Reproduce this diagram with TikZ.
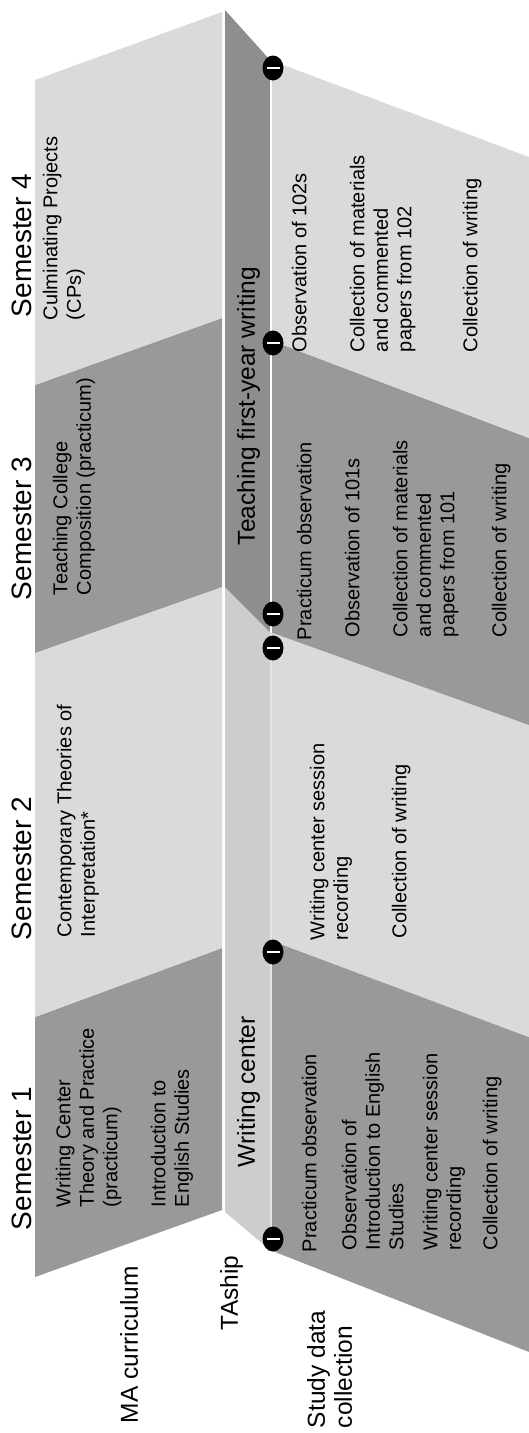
\documentclass[tikz,border=0pt]{standalone}
\usepackage{fontspec}
\setmainfont{Liberation Sans}
\usetikzlibrary{shapes.geometric}
\definecolor{lightg}{HTML}{DADADA}
\definecolor{darkg}{HTML}{999999}
\definecolor{talight}{HTML}{CDCDCD}
\definecolor{tadark}{HTML}{8E8E8E}
\definecolor{sepline}{HTML}{E4E4E4}
\begin{document}
\begin{tikzpicture}[x=1pt,y=-1pt,
  light/.style={fill=lightg},
  dark/.style={fill=darkg},
  txt/.style={rotate=90,anchor=north west,inner sep=0pt,outer sep=0pt,align=left,
    font=\fontsize{20}{23.5}\selectfont},
  hdr/.style={txt,font=\fontsize{28}{32}\selectfont},
  lbl/.style={txt,font=\fontsize{24.5}{27}\selectfont},
  marker/.style={ellipse,fill=black,inner sep=0pt,minimum width=21pt,minimum height=25pt,
    path picture={\draw[white,line width=2.4pt]
      ([xshift=-6.5pt]path picture bounding box.center) --
      ([xshift=6.5pt]path picture bounding box.center);}}]
\useasboundingbox (0,0) rectangle (529,1433);
% MA curriculum band
\fill[dark]  (35,1277) -- (222,1210) -- (222,948) -- (35,1017) -- cycle;
\fill[light] (35,1017) -- (222,948) -- (222,587) -- (35,653) -- cycle;
\fill[dark]  (35,653) -- (222,587) -- (222,318) -- (35,385) -- cycle;
\fill[light] (35,385) -- (222,318) -- (222,12) -- (35,80) -- cycle;
% TAship band
\fill[talight] (225,1212) -- (270,1250) -- (270,632) -- (225,587) -- cycle;
\fill[tadark]  (225,587) -- (270,632) -- (270,60) -- (225,10) -- cycle;
% Study data collection band
\fill[dark]  (270,1250) -- (529,1352) -- (529,1037) -- (270,940) -- cycle;
\fill[light] (270,940) -- (529,1037) -- (529,725) -- (270,632) -- cycle;
\fill[dark]  (270,632) -- (529,725) -- (529,438) -- (270,340) -- cycle;
\fill[light] (270,340) -- (529,438) -- (529,157) -- (270,60) -- cycle;
\draw[white,line width=1.5pt] (271,60) -- (271,632);
\draw[sepline,line width=1.2pt] (271,632) -- (271,1250);
% semester headers
\node[hdr] (s1) at (12,1230) {Semester 1};
\node[hdr] (s2) at (12,940) {Semester 2};
\node[hdr] (s3) at (12,600) {Semester 3};
\node[hdr] (s4) at (12,317) {Semester 4};
% MA curriculum texts
\node[txt] (ma1a) at (56,1207) {Writing Center\\Theory and Practice\\(practicum)};
\node[txt] (ma1b) at (151,1207) {Introduction to\\English Studies};
\node[txt] (ma2) at (57,937) {Contemporary Theories of\\Interpretation*};
\node[txt] (ma3) at (53,595) {Teaching College\\Composition (practicum)};
\node[txt] (ma4) at (43,320) {Culminating Projects\\(CPs)};
% TAship texts
\node[lbl] (ta1) at (237,1167) {Writing center};
\node[lbl] (ta2) at (237,545) {Teaching first-year writing};
% row labels
\node[lbl] (rma) at (120,1423) {MA curriculum};
\node[lbl] (rta) at (220,1330) {TAship};
\node[lbl] (rsd) at (307,1428) {Study data\\collection};
% study data, semester 1
\node[txt] (d1a) at (302,1252) {Practicum observation};
\node[txt] (d1b) at (342,1250) {Observation of\\Introduction to English\\Studies};
\node[txt] (d1c) at (423,1250) {Writing center session\\recording};
\node[txt] (d1d) at (483,1250) {Collection of writing};
% semester 2
\node[txt] (d2a) at (310,940) {Writing center session\\recording};
\node[txt] (d2b) at (392,938) {Collection of writing};
% semester 3
\node[txt] (d3a) at (297,640) {Practicum observation};
\node[txt] (d3b) at (345,637) {Observation of 101s};
\node[txt] (d3c) at (393,637) {Collection of materials\\and commented\\papers from 101};
\node[txt] (d3d) at (492,637) {Collection of writing};
% semester 4
\node[txt] (d4a) at (292,352) {Observation of 102s};
\node[txt] (d4b) at (350,352) {Collection of materials\\and commented\\papers from 102};
\node[txt] (d4c) at (463,352) {Collection of writing};
% markers
\node[marker] (m1) at (273,1239) {};
\node[marker] (m2) at (273,952) {};
\node[marker] (m3) at (273,648) {};
\node[marker] (m4) at (273,614) {};
\node[marker] (m5) at (273,343) {};
\node[marker] (m6) at (273,68) {};
\end{tikzpicture}
\end{document}
